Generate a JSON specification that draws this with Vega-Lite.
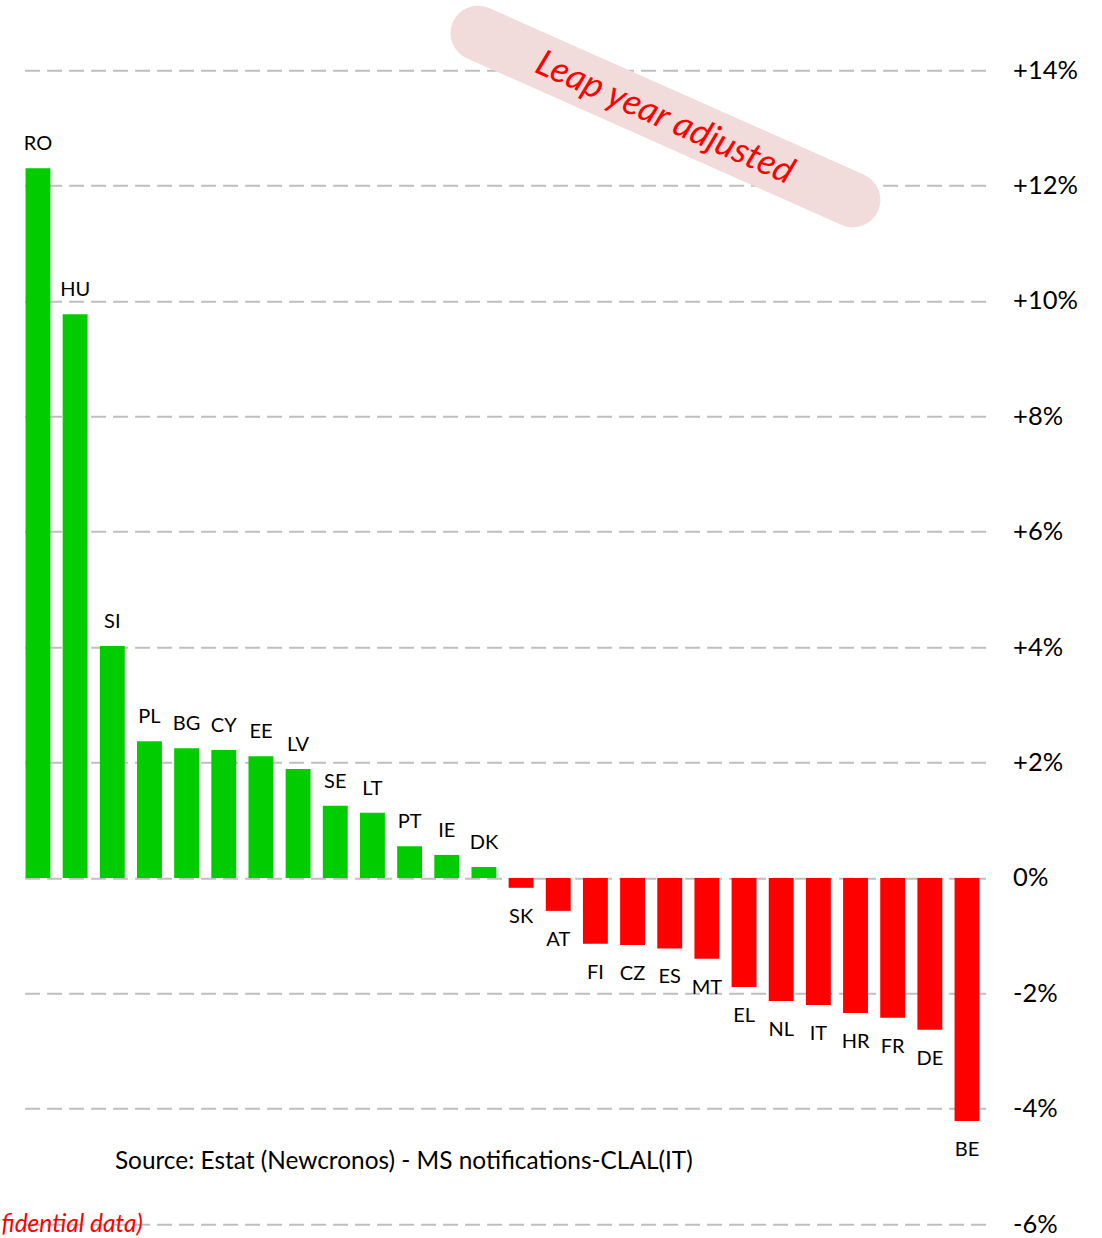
{
  "$schema": "https://vega.github.io/schema/vega-lite/v6.json",
  "autosize": {"type": "none"},
  "padding": {"left": 19.4, "right": 116.4, "top": 12.35, "bottom": 13.75},
  "width": 966.2,
  "height": 1211.9,
  "background": "white",
  "config": {"view": {"stroke": null}, "font": "Lato"},
  "resolve": {"scale": {"x": "independent"}},
  "layer": [
    {
      "data": {"values": [
        {"c": "RO", "v": 12.30}, {"c": "HU", "v": 9.77}, {"c": "SI", "v": 4.02},
        {"c": "PL", "v": 2.37}, {"c": "BG", "v": 2.25}, {"c": "CY", "v": 2.22},
        {"c": "EE", "v": 2.11}, {"c": "LV", "v": 1.89}, {"c": "SE", "v": 1.25},
        {"c": "LT", "v": 1.13}, {"c": "PT", "v": 0.55}, {"c": "IE", "v": 0.40},
        {"c": "DK", "v": 0.19}, {"c": "SK", "v": -0.17}, {"c": "AT", "v": -0.57},
        {"c": "FI", "v": -1.14}, {"c": "CZ", "v": -1.16}, {"c": "ES", "v": -1.22},
        {"c": "MT", "v": -1.40}, {"c": "EL", "v": -1.89}, {"c": "NL", "v": -2.13},
        {"c": "IT", "v": -2.20}, {"c": "HR", "v": -2.34}, {"c": "FR", "v": -2.42},
        {"c": "DE", "v": -2.63}, {"c": "BE", "v": -4.21}
      ]},
      "encoding": {
        "x": {"field": "c", "type": "nominal", "sort": null, "axis": null,
              "scale": {"paddingInner": 0.33, "paddingOuter": 0.165}},
        "y": {"field": "v", "type": "quantitative",
              "scale": {"domain": [-6, 15], "nice": false, "zero": false},
              "axis": {"orient": "right", "title": null, "values": [-6, -4, -2, 0, 2, 4, 6, 8, 10, 12, 14],
                       "labelExpr": "datum.value > 0 ? '+' + datum.value + '%' : (datum.value == 0 ? '\u2007' + '0%' : datum.value + '%')",
                       "domain": false, "ticks": false, "tickSize": 0, "labelPadding": 27,
                       "labelAlign": "left", "labelBaseline": "middle", "labelFontSize": 25.5, "labelColor": "#000000", "labelFont": "Lato",
                       "grid": true, "gridColor": "#BFBFBF", "gridWidth": 2, "gridDash": [15, 7]}}
      },
      "layer": [
        {"mark": {"type": "bar"},
         "encoding": {"color": {"condition": {"test": "datum.v > 0", "value": "#00CC00"}, "value": "#FF0000"}}},
        {"transform": [{"filter": "datum.v > 0"}],
         "mark": {"type": "text", "fontSize": 20, "baseline": "alphabetic", "align": "center", "dy": -18, "color": "#000000"},
         "encoding": {"text": {"field": "c"}}},
        {"transform": [{"filter": "datum.v <= 0"}],
         "mark": {"type": "text", "fontSize": 20, "baseline": "alphabetic", "align": "center", "dy": 35, "color": "#000000"},
         "encoding": {"text": {"field": "c"}}}
      ]
    },
    {
      "encoding": {
        "x": {"field": "xq", "type": "quantitative", "axis": null,
              "scale": {"domain": [0, 26], "nice": false, "zero": false}},
        "y": {"field": "v", "type": "quantitative",
              "scale": {"domain": [-6, 15], "nice": false, "zero": false},
              "axis": {"orient": "right", "title": null, "values": [-6, -4, -2, 0, 2, 4, 6, 8, 10, 12, 14],
                       "labelExpr": "datum.value > 0 ? '+' + datum.value + '%' : (datum.value == 0 ? '\u2007' + '0%' : datum.value + '%')",
                       "domain": false, "ticks": false, "tickSize": 0, "labelPadding": 27,
                       "labelAlign": "left", "labelBaseline": "middle", "labelFontSize": 25.5, "labelColor": "#000000", "labelFont": "Lato",
                       "grid": true, "gridColor": "#BFBFBF", "gridWidth": 2, "gridDash": [15, 7]}}
      },
      "layer": [
        {"data": {"values": [{"xq": 12.34, "v": 14.64}, {"xq": 22.43, "v": 11.75}]},
         "mark": {"type": "line", "strokeWidth": 55, "strokeCap": "round", "color": "#F2DCDB"}},
        {"data": {"values": [{"t": "Leap year adjusted", "xq": 17.37, "v": 13.17}]},
         "mark": {"type": "text", "fontSize": 36, "fontStyle": "italic", "color": "#FF0000", "angle": 24, "align": "center", "baseline": "middle"},
         "encoding": {"text": {"field": "t"}}},
        {"data": {"values": [{"t": "Source: Estat (Newcronos) - MS notifications-CLAL(IT)", "xq": 2.57, "v": -4.92}]},
         "mark": {"type": "text", "fontSize": 24.4, "color": "#000000", "align": "left", "baseline": "middle"},
         "encoding": {"text": {"field": "t"}}},
        {"data": {"values": [{"t": "fidential data)", "xq": -0.48, "v": -6.02}]},
         "mark": {"type": "text", "fontSize": 24.5, "fontStyle": "italic", "color": "#FF0000", "align": "left", "baseline": "middle"},
         "encoding": {"text": {"field": "t"}}}
      ]
    }
  ]
}
